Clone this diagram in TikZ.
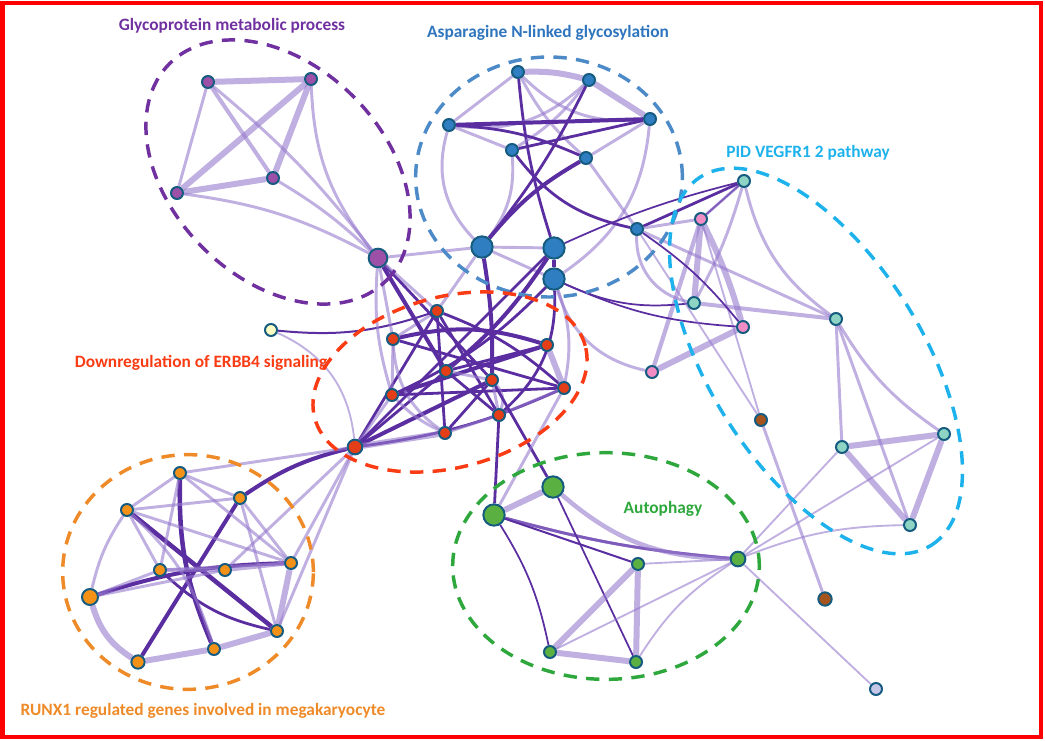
\documentclass[tikz,border=0pt]{standalone}
\usepackage{fontspec}
\setmainfont{Carlito}
\usetikzlibrary{backgrounds}

\definecolor{edgelt}{RGB}{150,122,205}
\definecolor{edgedk}{RGB}{90,45,160}
\definecolor{rim}{RGB}{22,92,128}
\definecolor{glyco}{RGB}{112,48,160}
\definecolor{glycofill}{RGB}{156,80,168}
\definecolor{asn}{RGB}{46,117,190}
\definecolor{asnfill}{RGB}{48,126,194}
\definecolor{vegf}{RGB}{30,178,236}
\definecolor{vegffill}{RGB}{142,212,196}
\definecolor{pinkfill}{RGB}{242,140,196}
\definecolor{erbb}{RGB}{250,60,20}
\definecolor{erbbfill}{RGB}{228,62,24}
\definecolor{runx}{RGB}{238,138,40}
\definecolor{runxfill}{RGB}{244,146,24}
\definecolor{autoph}{RGB}{46,168,60}
\definecolor{autophfill}{RGB}{90,176,64}
\definecolor{rust}{RGB}{166,84,30}
\definecolor{palelav}{RGB}{198,198,232}
\definecolor{paleyel}{RGB}{255,255,196}

\tikzset{
  gene/.style={circle, draw=rim, line width=1.5pt, inner sep=0pt, minimum size=9pt},
  hub/.style={gene, minimum size=16pt},
  midgene/.style={gene, minimum size=12pt},
  lite/.style={draw=edgelt, line width=2.2pt, draw opacity=.6},
  fat/.style={lite, line width=4.5pt},
  faint/.style={lite, line width=1.4pt},
  dark/.style={draw=edgedk, line width=2.1pt},
  heavy/.style={draw=edgedk, line width=3pt},
  hull/.style={line width=2.6pt, dash pattern=on 10pt off 7pt},
  grouplabel/.style={font=\bfseries\fontsize{13}{15}\selectfont}
}

\begin{document}
\begin{tikzpicture}[x=0.75pt, y=-0.75pt]
    \useasboundingbox (0,0) rectangle (1045,740);
    \draw[red, line width=3pt] (2.5,2.5) rectangle (1041,737);

    % glycoprotein metabolic process
    \node[gene, fill=glycofill] (g1) at (208, 82) {};
    \node[gene, fill=glycofill] (g2) at (311, 79) {};
    \node[gene, fill=glycofill] (g3) at (177, 193) {};
    \node[gene, fill=glycofill] (g4) at (273, 178) {};
    \node[hub, minimum size=14pt, fill=glycofill] (g5) at (378, 258) {};

    % asparagine N-linked glycosylation
    \node[gene, fill=asnfill] (a1) at (518, 72) {};
    \node[gene, fill=asnfill] (a2) at (589, 80) {};
    \node[gene, fill=asnfill] (a3) at (449, 125) {};
    \node[gene, fill=asnfill] (a4) at (650, 119) {};
    \node[gene, fill=asnfill] (a5) at (512, 150) {};
    \node[gene, fill=asnfill] (a6) at (586, 158) {};
    \node[hub, fill=asnfill] (a7) at (482, 247) {};
    \node[hub, fill=asnfill] (a8) at (554, 248) {};
    \node[hub, fill=asnfill] (a9) at (554, 279) {};
    \node[gene, fill=asnfill] (a10) at (637, 229) {};

    % PID VEGFR1 2 pathway
    \node[gene, fill=vegffill] (v1) at (744, 181) {};
    \node[gene, fill=pinkfill] (p1) at (701, 219) {};
    \node[gene, fill=vegffill] (v2) at (694, 303) {};
    \node[gene, fill=pinkfill] (p2) at (743, 327) {};
    \node[gene, fill=pinkfill] (p3) at (652, 372) {};
    \node[gene, fill=vegffill] (v3) at (836, 319) {};
    \node[gene, fill=vegffill] (v4) at (842, 447) {};
    \node[gene, fill=vegffill] (v5) at (944, 434) {};
    \node[gene, fill=vegffill] (v6) at (910, 525) {};
    \node[gene, fill=rust] (b1) at (761, 420) {};
    \node[gene, minimum size=10pt, fill=rust] (b2) at (825, 599) {};
    \node[gene, fill=palelav] (l1) at (876, 689) {};

    % downregulation of ERBB4 signaling
    \node[gene, fill=erbbfill] (r1) at (437, 311) {};
    \node[gene, fill=erbbfill] (r2) at (393, 339) {};
    \node[gene, fill=erbbfill] (r3) at (446, 371) {};
    \node[gene, fill=erbbfill] (r4) at (547, 345) {};
    \node[gene, fill=erbbfill] (r5) at (492, 380) {};
    \node[gene, fill=erbbfill] (r6) at (564, 388) {};
    \node[gene, fill=erbbfill] (r7) at (392, 395) {};
    \node[gene, fill=erbbfill] (r8) at (499, 415) {};
    \node[gene, fill=erbbfill] (r9) at (445, 433) {};
    \node[midgene, minimum size=11pt, fill=erbbfill] (r10) at (355, 447) {};
    \node[gene, fill=paleyel] (y1) at (271, 330) {};

    % RUNX1 regulated genes
    \node[gene, fill=runxfill] (o1) at (180, 473) {};
    \node[gene, fill=runxfill] (o2) at (240, 498) {};
    \node[gene, fill=runxfill] (o3) at (127, 510) {};
    \node[gene, fill=runxfill] (o4) at (160, 570) {};
    \node[gene, fill=runxfill] (o5) at (225, 570) {};
    \node[gene, fill=runxfill] (o6) at (291, 563) {};
    \node[midgene, fill=runxfill] (o7) at (90, 597) {};
    \node[gene, fill=runxfill] (o8) at (277, 631) {};
    \node[gene, fill=runxfill] (o9) at (214, 649) {};
    \node[gene, minimum size=10pt, fill=runxfill] (o10) at (138, 662) {};

    % autophagy
    \node[hub, fill=autophfill] (u1) at (494, 515) {};
    \node[hub, fill=autophfill] (u2) at (553, 487) {};
    \node[gene, minimum size=11pt, fill=autophfill] (u3) at (738, 559) {};
    \node[gene, fill=autophfill] (u4) at (638, 564) {};
    \node[gene, fill=autophfill] (u5) at (550, 652) {};
    \node[gene, fill=autophfill] (u6) at (636, 662) {};

    \node[grouplabel, text=glyco] (tg) at (232, 26) {Glycoprotein metabolic process};
    \node[grouplabel, text=asn] (ta) at (548, 33) {Asparagine N-linked glycosylation};
    \node[grouplabel, text=vegf] (tv) at (808, 153) {PID VEGFR1 2 pathway};
    \node[grouplabel, text=erbb] (te) at (201, 363) {Downregulation of ERBB4 signaling};
    \node[grouplabel, text=autoph] (tu) at (663, 509) {Autophagy};
    \node[grouplabel, text=runx] (to) at (203, 711) {RUNX1 regulated genes involved in megakaryocyte};

    \begin{scope}[on background layer]
    % edges inside groups
    \draw[fat] (g1) -- (g2);
    \draw[lite] (g1) -- (g3);
    \draw[lite, line width=3pt] (g1) -- (g4);
    \draw[lite] (g1) to[bend left=6] (g5);
    \draw[fat] (g2) -- (g3);
    \draw[fat] (g2) -- (g4);
    \draw[lite] (g2) to[bend right=18] (g5);
    \draw[fat] (g3) -- (g4);
    \draw[lite] (g3) to[bend left=10] (g5);
    \draw[lite] (g4) to[bend left=6] (g5);

    \draw[fat] (a1) to[bend left=8] (a2);
    \draw[lite] (a1) -- (a3);
    \draw[lite] (a1) to[bend right=25] (a4);
    \draw[lite] (a1) to[bend right=10] (a6);
    \draw[dark] (a1) to[bend right=6] (a8);
    \draw[fat] (a2) -- (a4);
    \draw[lite] (a2) to[bend left=25] (a3);
    \draw[lite] (a2) to[bend left=10] (a5);
    \draw[dark] (a2) to[bend left=6] (a7);
    \draw[heavy] (a3) -- (a4);
    \draw[dark] (a3) to[bend left=10] (a6);
    \draw[lite] (a3) -- (a5);
    \draw[lite] (a3) to[bend right=30] (a7);
    \draw[dark] (a4) -- (a5);
    \draw[lite] (a4) -- (a6);
    \draw[lite] (a4) to[bend left=25] (a9);
    \draw[dark] (a5) to[bend right=20] (a10);
    \draw[lite] (a5) to[bend left=20] (a7);
    \draw[heavy] (a6) to[bend right=10] (a7);
    \draw[lite] (a6) -- (a10);
    \draw[lite] (a7) -- (a8);
    \draw[heavy] (a8) -- (a9);
    \draw[lite] (a7) -- (a9);

    \draw[dark, line width=1.3pt] (v1) -- (p1);
    \draw[lite] (v1) -- (p1);
    \draw[lite] (v1) to[bend left=6] (v2);
    \draw[lite] (v1) to[bend right=20] (v3);
    \draw[fat] (p1) -- (v2);
    \draw[fat] (p1) to[bend left=5] (p2);
    \draw[lite, line width=3.2pt] (p1) -- (p3);
    \draw[fat] (p2) -- (p3);
    \draw[lite, line width=3pt] (v2) -- (v3);
    \draw[faint] (p1) -- (b1);
    \draw[lite] (b1) -- (b2);
    \draw[lite] (v3) -- (v4);
    \draw[lite] (v3) to[bend right=12] (v5);
    \draw[lite] (v3) -- (v6);
    \draw[fat] (v4) -- (v5);
    \draw[fat] (v4) -- (v6);
    \draw[fat] (v5) -- (v6);

    \draw[dark] (r1) -- (r8);
    \draw[dark] (r1) to[bend left=10] (r6);
    \draw[heavy] (r2) to[bend left=15] (r4);
    \draw[dark] (r2) -- (r6);
    \draw[dark] (r3) -- (r4);
    \draw[dark] (r3) -- (r8);
    \draw[heavy] (r7) -- (r4);
    \draw[dark] (r7) -- (r6);
    \draw[dark] (r10) -- (r3);
    \draw[heavy] (r10) -- (r5);
    \draw[dark] (r10) to[bend right=8] (r6);
    \draw[dark] (r10) -- (r1);
    \draw[dark] (r9) -- (r1);
    \draw[dark] (r9) -- (r5);
    \draw[lite] (r1) -- (r2);
    \draw[lite] (r2) -- (r7);
    \draw[lite] (r7) to[bend right=10] (r9);
    \draw[fat] (r9) -- (r10);
    \draw[lite] (r7) -- (r10);
    \draw[lite] (r3) -- (r5);
    \draw[lite] (r5) -- (r8);
    \draw[fat] (r4) -- (r6);
    \draw[lite] (r6) -- (r8);
    \draw[lite] (r8) -- (r9);
    \draw[lite] (r2) to[bend right=25] (r9);
    \draw[lite] (r5) to[bend left=30] (r8);
    \draw[dark, line width=1.5pt] (y1) to[bend right=12] (r1);
    \draw[faint] (y1) to[bend left=30] (r10);

    \draw[heavy, line width=3.4pt] (o1) to[bend right=12] (o9);
    \draw[heavy, line width=3.4pt] (o3) -- (o8);
    \draw[heavy] (o2) -- (o10);
    \draw[heavy] (o7) to[bend left=8] (o6);
    \draw[dark] (o4) to[bend right=15] (o8);
    \draw[lite] (o1) -- (o3);
    \draw[lite] (o1) -- (o2);
    \draw[lite] (o3) -- (o2);
    \draw[lite] (o3) to[bend right=10] (o7);
    \draw[fat] (o7) to[bend right=20] (o10);
    \draw[fat] (o10) -- (o9);
    \draw[fat] (o9) -- (o8);
    \draw[fat] (o8) -- (o6);
    \draw[lite] (o2) -- (o6);
    \draw[lite] (o3) -- (o6);
    \draw[lite] (o4) -- (o6);
    \draw[lite, line width=3pt] (o5) -- (o6);
    \draw[lite, line width=3pt] (o4) -- (o5);
    \draw[lite] (o1) -- (o4);
    \draw[lite] (o1) -- (o6);
    \draw[lite] (o3) -- (o4);
    \draw[lite] (o7) -- (o4);
    \draw[lite] (o7) -- (o5);
    \draw[lite] (o2) -- (o8);
    \draw[lite] (o3) to[bend left=15] (o9);

    \draw[fat] (u1) -- (u2);
    \draw[dark] (u1) to[bend right=5] (u3);
    \draw[lite] (u1) to[bend right=5] (u3);
    \draw[lite, line width=3.4pt] (u2) to[bend right=20] (u3);
    \draw[dark, line width=1.5pt] (u1) -- (u4);
    \draw[dark, line width=1.3pt] (u2) -- (u6);
    \draw[dark, line width=1.3pt] (u1) to[bend left=10] (u5);
    \draw[fat] (u4) -- (u5);
    \draw[fat] (u4) -- (u6);
    \draw[fat] (u5) -- (u6);
    \draw[faint] (u3) -- (u4);
    \draw[faint] (u3) -- (u5);
    \draw[faint] (u3) to[bend right=12] (u6);

    % edges between groups
    \draw[lite] (g5) -- (a7);
    \draw[heavy] (g5) -- (r3);
    \draw[dark] (g5) -- (r5);
    \draw[lite] (g5) -- (r2);
    \draw[lite] (g5) -- (r1);
    \draw[lite] (g5) to[bend right=10] (r7);
    \draw[heavy] (a7) to[bend left=5] (r5);
    \draw[lite] (a7) -- (r1);
    \draw[heavy] (a8) to[bend left=8] (r3);
    \draw[dark] (a8) -- (r10);
    \draw[dark] (a9) to[bend left=10] (r7);
    \draw[dark] (a9) to[bend left=25] (r8);
    \draw[lite] (a9) to[bend left=15] (r6);
    \draw[dark, line width=1.3pt] (a9) to[bend right=10] (p2);
    \draw[dark, line width=1.3pt] (a9) to[bend right=15] (v2);
    \draw[lite] (a9) to[bend right=30] (p3);
    \draw[dark] (a10) -- (v1);
    \draw[lite] (a10) -- (p1);
    \draw[lite] (a10) -- (v3);
    \draw[dark, line width=1.3pt] (a10) to[bend left=8] (p2);
    \draw[lite] (a10) to[bend right=40] (v2);
    \draw[faint] (a10) -- (b1);
    \draw[dark, line width=1.3pt] (a8) to[bend left=5] (v1);
    \draw[heavy] (r10) to[bend right=10] (o2);
    \draw[lite] (r10) -- (o1);
    \draw[lite] (r10) -- (o6);
    \draw[lite] (r10) -- (o8);
    \draw[lite] (r10) -- (o5);
    \draw[dark] (r8) -- (u1);
    \draw[dark] (r5) -- (u2);
    \draw[lite] (r6) -- (u1);
    \draw[faint] (u3) -- (v4);
    \draw[faint] (u3) -- (v5);
    \draw[faint] (u3) to[bend left=10] (v6);
    \draw[faint] (u3) -- (l1);

    % group outlines
    \draw[hull, draw=glyco, rotate around={-45:(278,172)}] (278,172) ellipse [x radius=115pt, y radius=80pt];
    \draw[hull, draw=asn!85!white] (549,177) ellipse [x radius=100pt, y radius=90pt];
    \draw[hull, draw=vegf, rotate around={-58:(816,361)}] (816,361) ellipse [x radius=163pt, y radius=80pt];
    \draw[hull, draw=erbb, rotate around={15:(450,382)}] (450,382) ellipse [x radius=105pt, y radius=64pt];
    \draw[hull, draw=runx] (188,572) ellipse [x radius=94pt, y radius=88pt];
    \draw[hull, draw=autoph] (606,566) ellipse [x radius=115pt, y radius=85pt];
    \end{scope}
\end{tikzpicture}
\end{document}
